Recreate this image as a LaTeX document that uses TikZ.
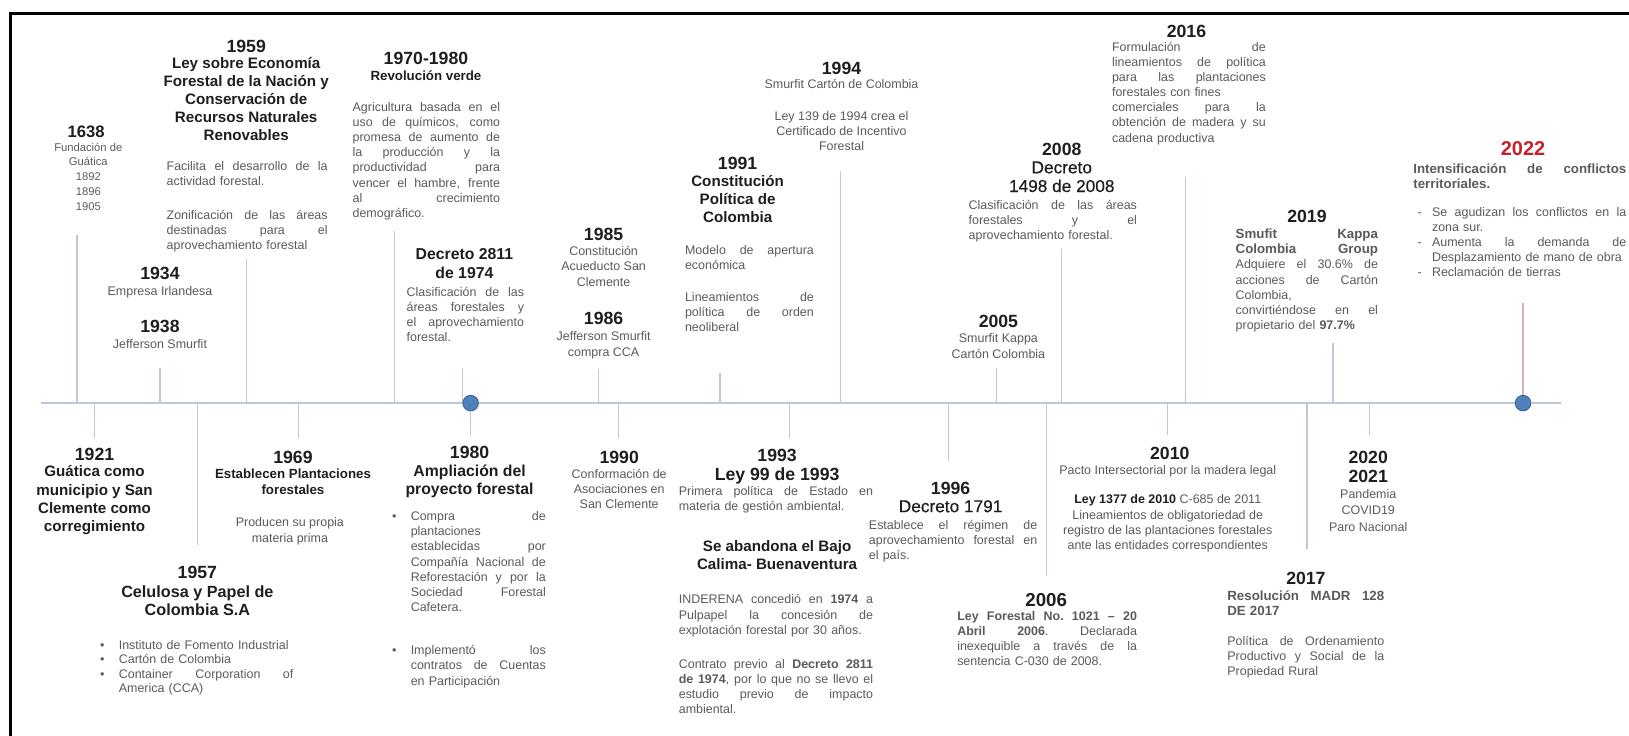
\documentclass[tikz,border=0pt]{standalone}
\usepackage{fontspec}
\setmainfont{Liberation Sans}
\newfontfamily\medfont[FakeBold=0.5]{Liberation Sans}
\definecolor{txtgray}{RGB}{90,90,90}
\definecolor{ttlblack}{RGB}{30,30,30}
\definecolor{linegray}{RGB}{188,200,218}
\definecolor{dotblue}{RGB}{79,129,189}
\definecolor{dotedge}{RGB}{55,95,150}
\definecolor{yrred}{RGB}{200,32,40}
\definecolor{redline}{RGB}{212,178,182}
\newlength{\bulind}
\setlength{\bulind}{9pt}
\newlength{\parw}
% one justified line, and list lines with a hanging marker
\newcommand{\evensp}{\spaceskip=0.278em plus 1fil\relax\xspaceskip=0.278em plus 1fil\relax}
\newcommand{\jline}[1]{\makebox[\parw][s]{\evensp#1}}
\newcommand{\bjline}[2]{\makebox[\bulind][l]{#1}\makebox[\dimexpr\parw-\bulind\relax][s]{\evensp#2}}
\newcommand{\bline}[2]{\makebox[\bulind][l]{#1}#2}

\begin{document}
\begin{tikzpicture}[x=0.5pt,y=0.5pt,yscale=-1,
  yr/.style={font=\bfseries\fontsize{8.5}{10}\selectfont,text=ttlblack,inner sep=0pt,anchor=north},
  hd/.style={font=\bfseries\fontsize{7.3}{8.7}\selectfont,text=ttlblack,inner sep=0pt,anchor=north,align=center},
  hds/.style={hd,font=\bfseries\fontsize{6.4}{7.5}\selectfont},
  dec/.style={hd,font=\medfont\fontsize{8.3}{9}\selectfont},
  bd/.style={font=\fontsize{6}{7.3}\selectfont,text=txtgray,inner sep=0pt,anchor=north,align=center},
  para/.style={font=\fontsize{6}{7.3}\selectfont,text=txtgray,inner sep=0pt,anchor=north west,align=left,
    text width=#1,execute at begin node={\setlength{\parw}{#1}}},
  tick/.style={draw=linegray,line width=0.6pt},
  dot/.style={circle,fill=dotblue,draw=dotedge,line width=0.4pt,minimum size=7.5pt,inner sep=0pt}]
\useasboundingbox (0,0) rectangle (1568,708);
\clip (0,0) rectangle (1568,708);

%Frame
\draw [line width=1.1pt] (10,712) -- (10,13) -- (1572,13) ;
%Time axis
\draw [draw=linegray,line width=0.8pt] (39,388) coordinate (axL) -- (1503,388) coordinate (axR) ;

%Ticks above the axis
\foreach \n/\x/\y in {1638/74/226,1938/154/354,1959/237/249,1970/380/222,1974/445/354,1986/576/355,1991/693/359,1994/809/165,2005/959/354,2008/1022/240,2016/1141/170,2019/1283/330}
  \draw [tick] (\x,388) coordinate (t\n) -- (\x,\y) ;
%Ticks below the axis
\foreach \n/\x/\y in {1921/91/422,1957/190/525,1969/287/422,1980/453/420,1990/595/422,1993/760/422,1996/913/444,2006/1007/554,2010/1124/419,2017/1258/528,2020/1318/419}
  \draw [tick] (\x,388) coordinate (t\n) -- (\x,\y) ;
\draw [draw=redline,line width=0.6pt] (1466,388) coordinate (t2022) -- (1466,292) ;

%Dots
\node [dot] (d1980) at (453,388) {} ;
\node [dot] (d2022) at (1466,388) {} ;

% ---------- above the axis ----------
% Text Node
\node [yr,font=\bfseries\fontsize{8}{10}\selectfont] (y1638) at (83,121) {1638};
\node [bd,font=\fontsize{5.4}{7.2}\selectfont] (b1638) at (85,137) {Fundación de\\Guática\\1892\\1896\\1905};
% Text Node
\node [yr] (y1959) at (237,38) {1959};
\node [hd] (h1959) at (237,55) {Ley sobre Economía\\Forestal de la Nación y\\Conservación de\\Recursos Naturales\\Renovables};
\node [para=77.5pt] (p1959) at (160,155) {\jline{Facilita el desarrollo de la}\\actividad forestal.\\[9pt]
  \jline{Zonificación de las áreas}\\\jline{destinadas para el}\\aprovechamiento forestal};
% Text Node
\node [yr] (y1934) at (154,257) {1934};
\node [bd] (b1934) at (154,275) {Empresa Irlandesa};
\node [yr] (y1938) at (154,308) {1938};
\node [bd] (b1938) at (154,326) {Jefferson Smurfit};
% Text Node
\node [yr] (y1970) at (410,50) {1970-1980};
\node [hds] (h1970) at (410,68) {Revolución verde};
\node [para=71pt] (p1970) at (339,98) {\jline{Agricultura basada en el}\\\jline{uso de químicos, como}\\
  \jline{promesa de aumento de}\\\jline{la producción y la}\\\jline{productividad para}\\
  \jline{vencer el hambre, frente}\\\jline{al crecimiento}\\demográfico.};
% Text Node
\node [hd,font=\bfseries\fontsize{7.6}{9}\selectfont] (h1974) at (447,239) {Decreto 2811\\de 1974};
\node [para=56.5pt] (p1974) at (391,276) {\jline{Clasificación de las}\\\jline{áreas forestales y}\\
  \jline{el aprovechamiento}\\forestal.};
% Text Node
\node [yr] (y1985) at (581,219) {1985};
\node [bd] (b1985) at (581,237) {Constitución\\Acueducto San\\Clemente};
\node [yr] (y1986) at (581,300) {1986};
\node [bd] (b1986) at (581,319) {Jefferson Smurfit\\compra CCA};
% Text Node
\node [yr] (y1991) at (710,151) {1991};
\node [hd] (h1991) at (710,168) {Constitución\\Política de\\Colombia};
\node [para=62pt] (p1991) at (659,236) {\jline{Modelo de apertura}\\económica\\[8pt]
  \jline{Lineamientos de}\\\jline{política de orden}\\neoliberal};
% Text Node
\node [yr] (y1994) at (810,59) {1994};
\node [bd] (b1994) at (810,76) {Smurfit Cartón de Colombia};
\node [bd] (c1994) at (810,107) {Ley 139 de 1994 crea el\\Certificado de Incentivo\\Forestal};
% Text Node
\node [yr] (y2005) at (961,303) {2005};
\node [bd] (b2005) at (961,321) {Smurfit Kappa\\Cartón Colombia};
% Text Node
\node [yr] (y2008) at (1022,137) {2008};
\node [dec] (h2008) at (1022,155) {Decreto\\1498 de 2008};
\node [para=81pt] (p2008) at (932,192) {\jline{Clasificación de las áreas}\\\jline{forestales y el}\\
  aprovechamiento forestal.};
% Text Node
\node [yr] (y2016) at (1142,24) {2016};
\node [para=74pt] (p2016) at (1070,40) {\jline{Formulación de}\\\jline{lineamientos de política}\\
  \jline{para las plantaciones}\\forestales con fines\\\jline{comerciales para la}\\
  \jline{obtención de madera y su}\\cadena productiva};
% Text Node
\node [yr] (y2019) at (1258,202) {2019};
\node [para=68.5pt] (p2019) at (1189,220) {{\bfseries\fontsize{6.4}{7.3}\selectfont\jline{Smufit Kappa}\\\jline{Colombia Group}}\\
  \jline{Adquiere el 30.6\% de}\\\jline{acciones de Cartón}\\Colombia,\\
  \jline{convirtiéndose en el}\\propietario del \textbf{97.7\%}};
% Text Node
\node [yr,text=yrred,font=\bfseries\fontsize{9.6}{11}\selectfont] (y2022) at (1466,136) {2022};
\node [para=102.5pt] (p2022) at (1360,157) {{\bfseries\fontsize{6.4}{7.3}\selectfont\jline{Intensificación de conflictos}\\territoriales.}\\[6pt]
  \bjline{\hspace{2pt}-}{Se agudizan los conflictos en la}\\\bline{}{zona sur.}\\
  \bjline{\hspace{2pt}-}{Aumenta la demanda de}\\\bline{}{Desplazamiento de mano de obra}\\
  \bline{\hspace{2pt}-}{Reclamación de tierras}};

% ---------- below the axis ----------
% Text Node
\node [yr] (y1921) at (91,431) {1921};
\node [hd] (h1921) at (91,448) {Guática como\\municipio y San\\Clemente como\\corregimiento};
% Text Node
\node [yr] (y1969) at (282,434) {1969};
\node [hds] (h1969) at (282,451) {Establecen Plantaciones\\forestales};
\node [bd] (b1969) at (279,498) {Producen su propia\\materia prima};
% Text Node
\node [yr] (y1957) at (190,545) {1957};
\node [hd,font=\bfseries\fontsize{7.8}{9}\selectfont] (h1957) at (190,563) {Celulosa y Papel de\\Colombia S.A};
\node [para=93pt,font=\fontsize{6}{6.9}\selectfont] (p1957) at (96,616) {\bline{\textbullet}{Instituto de Fomento Industrial}\\
  \bline{\textbullet}{Cartón de Colombia}\\\bjline{\textbullet}{Container Corporation of}\\\bline{}{America (CCA)}};
% Text Node
\node [yr] (y1980) at (452,429) {1980};
\node [hd,font=\bfseries\fontsize{7.6}{8.7}\selectfont] (h1980) at (452,447) {Ampliación del\\proyecto forestal};
\node [para=74pt] (p1980) at (377,492) {\bjline{\textbullet}{Compra de}\\\bline{}{plantaciones}\\
  \bjline{}{establecidas por}\\\bjline{}{Compañía Nacional de}\\\bjline{}{Reforestación y por la}\\
  \bjline{}{Sociedad Forestal}\\\bline{}{Cafetera.}\\[13.5pt]
  \bjline{\textbullet}{Implementó los}\\\bjline{}{contratos de Cuentas}\\\bline{}{en Participación}};
% Text Node
\node [yr] (y1990) at (596,434) {1990};
\node [bd] (b1990) at (596,451) {Conformación de\\Asociaciones en\\San Clemente};
% Text Node
\node [yr] (y1993) at (748,432) {1993};
\node [hd,font=\bfseries\fontsize{8.5}{10}\selectfont] (h1993) at (748,450) {Ley 99 de 1993};
\node [para=93.5pt] (p1993) at (653,468) {\jline{Primera política de Estado en}\\materia de gestión ambiental.};
\node [hd] (s1993) at (748,520) {Se abandona el Bajo\\Calima- Buenaventura};
\node [para=93.5pt] (q1993) at (653,572) {\jline{INDERENA concedió en \textbf{1974} a}\\\jline{Pulpapel la concesión de}\\
  explotación forestal por 30 años.\\[9pt]
  \jline{Contrato previo al \textbf{Decreto 2811}}\\\jline{\textbf{de 1974}, por lo que no se llevo el}\\
  \jline{estudio previo de impacto}\\ambiental.};
% Text Node
\node [yr] (y1996) at (915,464) {1996};
\node [dec] (h1996) at (915,481) {Decreto 1791};
\node [para=81pt] (p1996) at (836,500) {\jline{Establece el régimen de}\\\jline{aprovechamiento forestal en}\\el país.};
% Text Node
\node [yr,font=\bfseries\fontsize{9}{10}\selectfont] (y2006) at (1007,571) {2006};
\node [para=86.5pt] (p2006) at (921,588) {\jline{\bfseries Ley Forestal No. 1021 – 20}\\\jline{\textbf{Abril 2006}. Declarada}\\
  \jline{inexequible a través de la}\\sentencia C-030 de 2008.};
% Text Node
\node [yr] (y2010) at (1126,430) {2010};
\node [bd] (b2010) at (1124,448) {Pacto Intersectorial por la madera legal};
\node [bd] (c2010) at (1124,476) {\textcolor{ttlblack}{\bfseries Ley 1377 de 2010} C-685 de 2011\\Lineamientos de obligatoriedad de\\
  registro de las plantaciones forestales\\ante las entidades correspondientes};
% Text Node
\node [yr,align=center,font=\bfseries\fontsize{8.5}{9}\selectfont] (y2020) at (1317,434) {2020\\2021};
\node [bd,font=\fontsize{6}{7.8}\selectfont] (b2020) at (1317,471) {Pandemia\\COVID19\\Paro Nacional};
% Text Node
\node [yr] (y2017) at (1257,550) {2017};
\node [para=75.5pt] (p2017) at (1181,568) {{\bfseries\fontsize{6.4}{8}\selectfont\jline{Resolución MADR 128}\\DE 2017}\\[7pt]
  \jline{Política de Ordenamiento}\\\jline{Productivo y Social de la}\\Propiedad Rural};

\end{tikzpicture}
\end{document}
